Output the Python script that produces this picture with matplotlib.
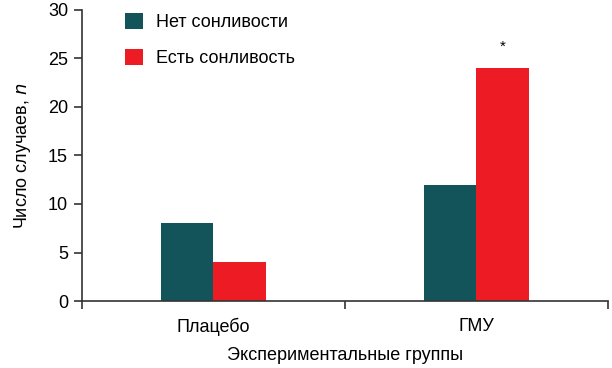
# Libraries
import numpy as np
import matplotlib.pyplot as plt

plt.rcParams['font.family'] = ['Liberation Sans', 'DejaVu Sans']

# Data
groups = ['Плацебо', 'ГМУ']
no_sleepy = [8, 12]
sleepy = [4, 24]
series_names = ['Нет сонливости', 'Есть сонливость']
colors = ['#12545a', '#ed1c24']

# Visualization
fig = plt.figure(figsize=(6.12, 3.68), dpi=100)
ax = fig.add_axes([0.134, 0.182, 0.859, 0.791])

x = np.array([0.5, 1.5])
w = 0.2
ax.bar(x - w / 2, no_sleepy, width=w, color=colors[0], label=series_names[0])
ax.bar(x + w / 2, sleepy, width=w, color=colors[1], label=series_names[1])
ax.text(x[1] + w / 2, sleepy[1] + 1.5, '*', ha='center', va='bottom', fontsize=11)

ax.set_xlim(0, 2)
ax.set_ylim(0, 30)
ax.set_yticks([0, 5, 10, 15, 20, 25, 30])
ax.set_xticks([0, 1, 2])
ax.set_xticklabels([])
ax.set_xticks(x, minor=True)
ax.set_xticklabels(groups, minor=True)
ax.tick_params(axis='x', which='minor', length=0, pad=12, labelsize=13)
ax.tick_params(axis='x', which='major', length=6, width=1.2, color='#333333')
ax.tick_params(axis='y', length=6, width=1.2, color='#333333', labelsize=13, pad=4)

for s in ['top', 'right']:
    ax.spines[s].set_visible(False)
for s in ['left', 'bottom']:
    ax.spines[s].set_linewidth(1.2)
    ax.spines[s].set_color('#333333')

ax.set_xlabel('Экспериментальные группы', fontsize=13, labelpad=8)
ax.set_ylabel('Число случаев, $n$', fontsize=13, labelpad=11)

ax.legend(loc='upper left', bbox_to_anchor=(0.05, 1.045), frameon=False,
          fontsize=13, handlelength=1.0, handleheight=1.0, labelspacing=0.95,
          handletextpad=0.75)

fig.savefig('out.png', dpi=100)
